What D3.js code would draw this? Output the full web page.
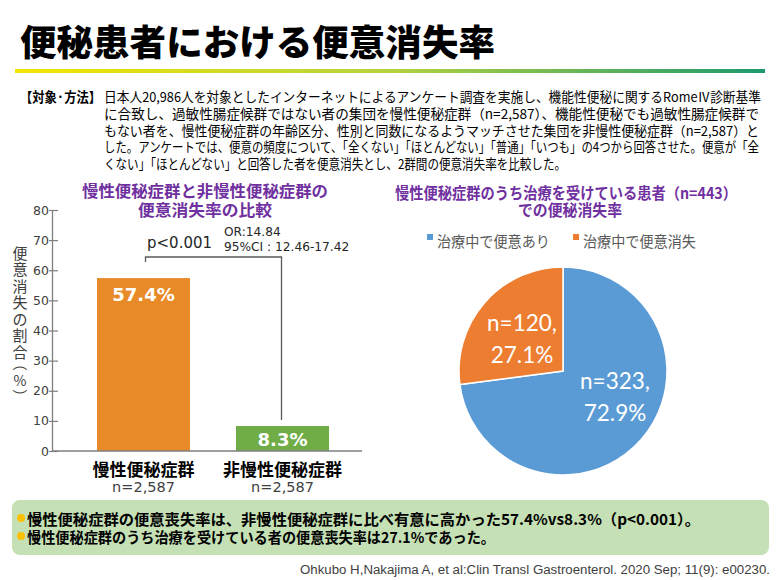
<!DOCTYPE html>
<html><head><meta charset="utf-8">
<script src="https://cdn.jsdelivr.net/npm/d3@7"></script>
<style>body{margin:0;background:#fff}svg{display:block}</style>
</head><body><svg id="c" width="780" height="580"></svg>
<script>
const categories = ["慢性便秘症群", "非慢性便秘症群"];
const groupN = ["n=2,587", "n=2,587"];
const lossRates = [57.4, 8.3];
const yTicks = [0, 10, 20, 30, 40, 50, 60, 70, 80];
const yTitleChars = ["便","意","消","失","の","割","合","（","%","）"];
const pieLabels = ["治療中で便意あり", "治療中で便意消失"];
const pieCounts = [323, 120];
const piePercents = [72.9, 27.1];
const methodLines = [
 "日本人20,986人を対象としたインターネットによるアンケート調査を実施し、機能性便秘に関するRomeⅣ診断基準",
 "に合致し、過敏性腸症候群ではない者の集団を慢性便秘症群（n=2,587）、機能性便秘でも過敏性腸症候群で",
 "もない者を、慢性便秘症群の年齢区分、性別と同数になるようマッチさせた集団を非慢性便秘症群（n=2,587）と",
 "した。アンケートでは、便意の頻度について、「全くない」「ほとんどない」「普通」「いつも」の4つから回答させた。便意が「全",
 "くない」「ほとんどない」と回答した者を便意消失とし、2群間の便意消失率を比較した。"
];
const methodWidths = [657, 655, 655, 655, 462];
const summaryLines = [
 "慢性便秘症群の便意喪失率は、非慢性便秘症群に比べ有意に高かった57.4%vs8.3%（p<0.001）。",
 "慢性便秘症群のうち治療を受けている者の便意喪失率は27.1%であった。"
];

const JP = "'Noto Sans CJK JP','Noto Sans',sans-serif";
const NUM = "'DejaVu Sans',Verdana,sans-serif";
const svg = d3.select("#c");

// gradient
const defs = svg.append("defs");
const g = defs.append("linearGradient").attr("id","grad");
g.append("stop").attr("offset","0").attr("stop-color","#f3e500");
g.append("stop").attr("offset","0.5").attr("stop-color","#b5d23e");
g.append("stop").attr("offset","1").attr("stop-color","#1c9a6e");

// title
svg.append("text").attr("x",20).attr("y",40).attr("dominant-baseline","central")
  .attr("font-family",JP).attr("font-weight",900).attr("font-size",36)
  .attr("textLength",475).attr("lengthAdjust","spacingAndGlyphs")
  .attr("fill","#000").text("便秘患者における便意消失率");
svg.append("rect").attr("x",15).attr("y",69).attr("width",750).attr("height",4).attr("fill","url(#grad)");

// method
svg.append("text").attr("x",20).attr("y",96).attr("dominant-baseline","central")
  .attr("font-family",JP).attr("font-weight",700).attr("font-size",13.5)
  .attr("textLength",81).attr("lengthAdjust","spacingAndGlyphs").attr("fill","#000").text("【対象·方法】");
svg.selectAll("text.m").data(methodLines).join("text").attr("class","m")
  .attr("x",104).attr("y",(d,i)=>96+i*16.8).attr("dominant-baseline","central")
  .attr("font-family",JP).attr("font-size",13.5).attr("fill","#000")
  .attr("textLength",(d,i)=>methodWidths[i]).attr("lengthAdjust","spacingAndGlyphs").text(d=>d);

// ---- bar chart ----
const y = d3.scaleLinear().domain([0,80]).range([451,210]);
const x = d3.scaleBand().domain(categories).range([27.5,398.5]).paddingInner(0.331).paddingOuter(0.5);
const barColors = ["#e98a28","#70ad47"];

svg.append("text").attr("x",205).attr("y",190).attr("text-anchor","middle").attr("dominant-baseline","central")
  .attr("font-family",JP).attr("font-weight",700).attr("font-size",16).attr("fill","#7030a0")
  .attr("textLength",246).attr("lengthAdjust","spacingAndGlyphs").text("慢性便秘症群と非慢性便秘症群の");
svg.append("text").attr("x",205).attr("y",209).attr("text-anchor","middle").attr("dominant-baseline","central")
  .attr("font-family",JP).attr("font-weight",700).attr("font-size",16).attr("fill","#7030a0")
  .attr("textLength",134).attr("lengthAdjust","spacingAndGlyphs").text("便意消失率の比較");

svg.selectAll("rect.bar").data(lossRates).join("rect").attr("class","bar")
  .attr("x",(d,i)=>x(categories[i])).attr("width",x.bandwidth())
  .attr("y",d=>y(d)).attr("height",d=>y(0)-y(d)).attr("fill",(d,i)=>barColors[i]);

const ax = svg.append("g").attr("transform","translate(52,0)")
  .call(d3.axisLeft(y).tickValues(yTicks).tickSizeInner(-6).tickSizeOuter(0).tickPadding(3));
ax.select(".domain").attr("stroke","#7f7f7f").attr("stroke-width",1.3);
ax.selectAll(".tick line").attr("stroke","#7f7f7f").attr("stroke-width",1.2).attr("x1",-3);
ax.selectAll(".tick text").attr("font-family",NUM).attr("font-size",12.5).attr("fill","#404040");
svg.append("line").attr("x1",52).attr("x2",362).attr("y1",y(0)).attr("y2",y(0))
  .attr("stroke","#7f7f7f").attr("stroke-width",1.5);

svg.selectAll("text.val").data(lossRates).join("text").attr("class","val")
  .attr("x",(d,i)=>x(categories[i])+x.bandwidth()/2)
  .attr("y",(d,i)=> i===0 ? y(d)+16 : y(d)+14)
  .attr("text-anchor","middle").attr("dominant-baseline","central")
  .attr("font-family",NUM).attr("font-weight",700).attr("font-size",18).attr("fill","#fff")
  .text(d=>d.toFixed(1)+"%");

svg.selectAll("text.cat").data(categories).join("text").attr("class","cat")
  .attr("x",d=>x(d)+x.bandwidth()/2).attr("y",468).attr("text-anchor","middle").attr("dominant-baseline","central")
  .attr("font-family",JP).attr("font-weight",700).attr("font-size",17).attr("fill","#000").text(d=>d);
svg.selectAll("text.n").data(groupN).join("text").attr("class","n")
  .attr("x",(d,i)=>x(categories[i])+x.bandwidth()/2).attr("y",487).attr("text-anchor","middle").attr("dominant-baseline","central")
  .attr("font-family",NUM).attr("font-size",14.5).attr("fill","#404040").text(d=>d);

// y axis title (vertical, one glyph per slot)
const yTitleY = [252,268.5,285,301.5,318,334.5,351,367,380,393];
const yTitle = svg.append("g").attr("font-family",JP).attr("font-size",15).attr("fill","#404040");
yTitleChars.forEach((ch,i)=>{
  const t = yTitle.append("text").attr("text-anchor","middle").attr("dominant-baseline","central").text(ch);
  if (ch === "（") t.attr("transform",`translate(20,${yTitleY[i]-3.5}) rotate(90)`);
  else if (ch === "）") t.attr("transform",`translate(20,${yTitleY[i]+3.5}) rotate(90)`);
  else if (ch === "%") t.attr("x",20).attr("y",yTitleY[i]).attr("font-size",14);
  else t.attr("x",20).attr("y",yTitleY[i]);
});

// significance bracket
const c1 = x(categories[0])+x.bandwidth()/2+2, c2 = x(categories[1])+x.bandwidth()/2-1;
svg.append("path").attr("d",`M${c1},262V257H${c2}V${y(lossRates[1])-6}`)
  .attr("fill","none").attr("stroke","#595959").attr("stroke-width",1.3);
svg.append("text").attr("x",147).attr("y",243).attr("dominant-baseline","central")
  .attr("font-family",NUM).attr("font-size",15).attr("fill","#262626").text("p<0.001");
svg.append("text").attr("x",224).attr("y",232).attr("dominant-baseline","central")
  .attr("font-family",NUM).attr("font-size",12.2).attr("fill","#262626").text("OR:14.84");
svg.append("text").attr("x",224).attr("y",247).attr("dominant-baseline","central")
  .attr("font-family",NUM).attr("font-size",12.2).attr("fill","#262626").text("95%CI : 12.46-17.42");

// ---- pie chart ----
svg.append("text").attr("x",566).attr("y",192).attr("text-anchor","middle").attr("dominant-baseline","central")
  .attr("font-family",JP).attr("font-weight",700).attr("font-size",15.5).attr("fill","#7030a0")
  .attr("textLength",342).attr("lengthAdjust","spacingAndGlyphs").text("慢性便秘症群のうち治療を受けている患者（n=443）");
svg.append("text").attr("x",570).attr("y",209).attr("text-anchor","middle").attr("dominant-baseline","central")
  .attr("font-family",JP).attr("font-weight",700).attr("font-size",15.5).attr("fill","#7030a0")
  .attr("textLength",104).attr("lengthAdjust","spacingAndGlyphs").text("での便秘消失率");

const pieColors = ["#5b9bd5","#ed7d31"];
const legX = [427, 573];
pieLabels.forEach((l,i)=>{
  svg.append("rect").attr("x",legX[i]).attr("y",234).attr("width",6).attr("height",6).attr("fill",pieColors[i]);
  svg.append("text").attr("x",legX[i]+10).attr("y",240).attr("dominant-baseline","central")
    .attr("font-family",JP).attr("font-size",15).attr("fill","#595959")
    .attr("textLength",113).attr("lengthAdjust","spacingAndGlyphs").text(l);
});

const cx = 563, cy = 371, R = 104;
const arcs = d3.pie().sort(null)(pieCounts);
const arc = d3.arc().innerRadius(0).outerRadius(R);
const pg = svg.append("g").attr("transform",`translate(${cx},${cy})`);
pg.selectAll("path").data(arcs).join("path").attr("d",arc)
  .attr("fill",(d,i)=>pieColors[i]).attr("stroke","#fff").attr("stroke-width",1.5);
const labelPos = [[52,26],[-41,-32]];
arcs.forEach((a,i)=>{
  const t = pg.append("text").attr("text-anchor","middle")
    .attr("font-family","Lato,'Open Sans',sans-serif").attr("font-size",22.5).attr("fill","#fff");
  t.append("tspan").attr("x",labelPos[i][0]).attr("y",labelPos[i][1]-8).text(`n=${pieCounts[i]},`);
  t.append("tspan").attr("x",labelPos[i][0]).attr("y",labelPos[i][1]+24).text(`${piePercents[i]}%`);
});

// ---- summary box ----
svg.append("rect").attr("x",12).attr("y",500).attr("width",757).attr("height",55).attr("rx",8).attr("fill","#c5e0b4");
summaryLines.forEach((s,i)=>{
  const yy = 518 + i*18;
  svg.append("circle").attr("cx",21).attr("cy",yy).attr("r",4).attr("fill","#ffc000");
  svg.append("text").attr("x",27).attr("y",yy).attr("dominant-baseline","central")
    .attr("font-family",JP).attr("font-weight",700).attr("font-size",15).attr("fill","#000")
    .attr("textLength", i===0 ? 673 : 468).attr("lengthAdjust","spacingAndGlyphs").text(s);
});

svg.append("text").attr("x",770).attr("y",570).attr("text-anchor","end").attr("dominant-baseline","central")
  .attr("font-family","'Liberation Sans',Arial,sans-serif").attr("font-size",12.5).attr("fill","#404040")
  .attr("textLength",470).attr("lengthAdjust","spacingAndGlyphs")
  .text("Ohkubo H,Nakajima A, et al:Clin Transl Gastroenterol. 2020 Sep; 11(9): e00230.");
</script></body></html>
